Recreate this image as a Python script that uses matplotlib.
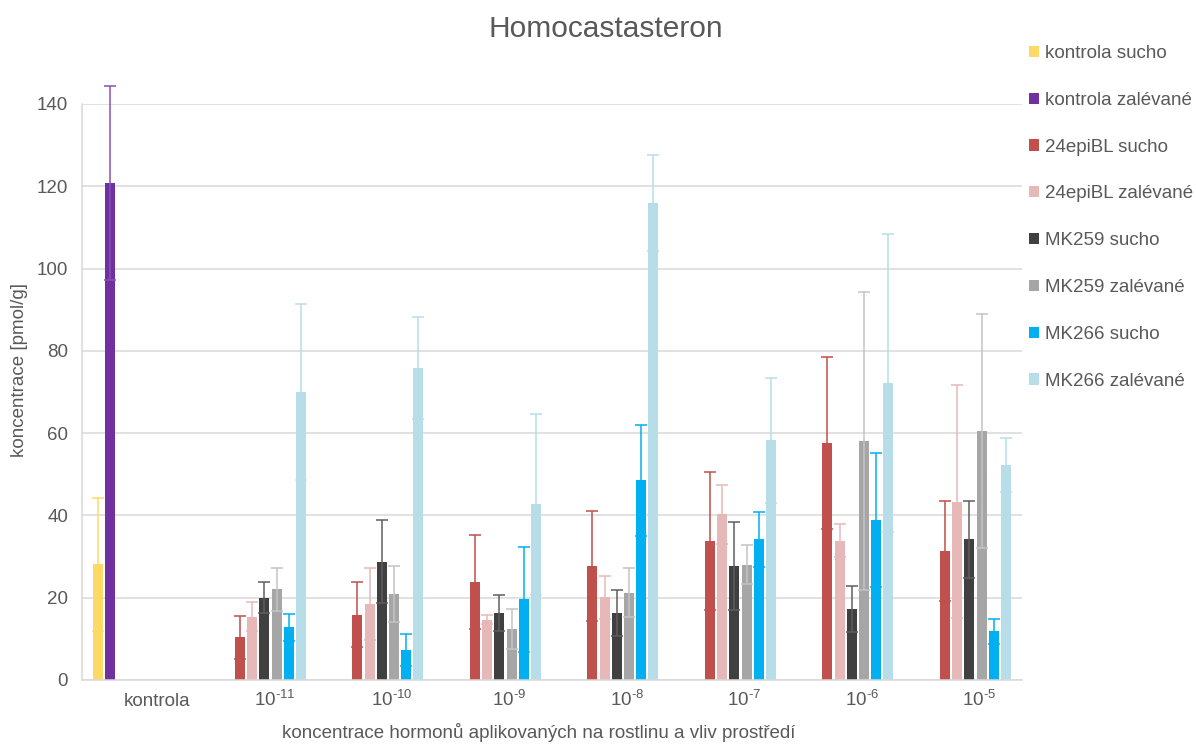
import numpy as np
import matplotlib
matplotlib.use("Agg")
import matplotlib.pyplot as plt
from matplotlib.transforms import ScaledTranslation

plt.rcParams['font.family'] = ['Liberation Sans', 'DejaVu Sans']
plt.rcParams['mathtext.fontset'] = 'custom'
plt.rcParams['mathtext.rm'] = 'Liberation Sans'
plt.rcParams['mathtext.it'] = 'Liberation Sans:italic'
plt.rcParams['mathtext.bf'] = 'Liberation Sans:bold'

nan = np.nan

categories = ['kontrola', r'$\mathregular{10^{\text{-}11}}$', r'$\mathregular{10^{\text{-}10}}$',
              r'$\mathregular{10^{\text{-}9}}$', r'$\mathregular{10^{\text{-}8}}$',
              r'$\mathregular{10^{\text{-}7}}$', r'$\mathregular{10^{\text{-}6}}$',
              r'$\mathregular{10^{\text{-}5}}$']

series_names = ['kontrola sucho', 'kontrola zalévané', '24epiBL sucho', '24epiBL zalévané',
                'MK259 sucho', 'MK259 zalévané', 'MK266 sucho', 'MK266 zalévané']

kontrola_sucho = [28.1, nan, nan, nan, nan, nan, nan, nan]
kontrola_sucho_err = [16.2, nan, nan, nan, nan, nan, nan, nan]
kontrola_zal = [120.8, nan, nan, nan, nan, nan, nan, nan]
kontrola_zal_err = [23.5, nan, nan, nan, nan, nan, nan, nan]
epi_sucho = [nan, 10.4, 15.8, 23.8, 27.7, 33.8, 57.6, 31.4]
epi_sucho_err = [nan, 5.2, 7.9, 11.4, 13.3, 16.7, 20.9, 12.2]
epi_zal = [nan, 15.4, 18.5, 14.7, 20.1, 40.3, 33.8, 43.3]
epi_zal_err = [nan, 3.5, 8.7, 1.0, 5.2, 7.2, 4.0, 28.3]
mk259_sucho = [nan, 20.0, 28.8, 16.3, 16.3, 27.6, 17.2, 34.2]
mk259_sucho_err = [nan, 3.7, 10.0, 4.4, 5.6, 10.7, 5.6, 9.4]
mk259_zal = [nan, 22.0, 20.9, 12.4, 21.2, 28.0, 58.0, 60.6]
mk259_zal_err = [nan, 5.2, 6.7, 4.8, 6.0, 4.7, 36.2, 28.4]
mk266_sucho = [nan, 12.8, 7.3, 19.6, 48.5, 34.2, 38.8, 11.8]
mk266_sucho_err = [nan, 3.3, 3.8, 12.7, 13.6, 6.7, 16.3, 3.1]
mk266_zal = [nan, 70.1, 75.9, 42.7, 115.9, 58.3, 72.2, 52.3]
mk266_zal_err = [nan, 21.4, 12.4, 22.0, 11.7, 15.2, 36.3, 6.6]

values = [kontrola_sucho, kontrola_zal, epi_sucho, epi_zal,
          mk259_sucho, mk259_zal, mk266_sucho, mk266_zal]
errors = [kontrola_sucho_err, kontrola_zal_err, epi_sucho_err, epi_zal_err,
          mk259_sucho_err, mk259_zal_err, mk266_sucho_err, mk266_zal_err]

bar_colors = ['#FFD966', '#7030A0', '#C0504D', '#E6B9B8',
              '#404040', '#A6A6A6', '#00B0F0', '#B7DEE8']
err_colors = ['#FFD966', '#8A50B8', '#C0504D', '#E6B9B8',
              '#5F5F5F', '#C4C4C4', '#00B0F0', '#B7DEE8']

text_color = '#595959'
grid_color = '#D9D9D9'
fs = 13.5

W, H = 1196, 744
fig = plt.figure(figsize=(W / 100, H / 100), dpi=100)
ax = fig.add_axes([82 / W, 1 - 680 / H, 940 / W, (680 - 104) / H])

slot = 0.1038
width = 0.085
idx = np.arange(len(categories))
handles = []
for k in range(len(series_names)):
    x = idx + (k - 3.5) * slot
    v = np.array(values[k], dtype=float)
    e = np.array(errors[k], dtype=float)
    b = ax.bar(x, v, width, color=bar_colors[k], zorder=2, label=series_names[k])
    handles.append(b)
    m = ~np.isnan(v)
    ax.errorbar(x[m], v[m], yerr=e[m], fmt='none', ecolor=err_colors[k],
                elinewidth=1.1, capsize=4, capthick=1.1, zorder=3, clip_on=False)

ax.set_xlim(-0.5, len(categories) - 0.5)
ax.set_ylim(0, 140)
ax.set_yticks(np.arange(0, 141, 20))
ax.set_xticks(idx)
ax.set_xticklabels(categories)

ax.yaxis.grid(True, color=grid_color, linewidth=1.1, zorder=0)
ax.set_axisbelow(True)
for s in ['top', 'right']:
    ax.spines[s].set_visible(False)
for s in ['left', 'bottom']:
    ax.spines[s].set_color(grid_color)
    ax.spines[s].set_linewidth(1.1)

ax.tick_params(axis='y', length=0, labelsize=fs, labelcolor=text_color, pad=10)
ax.tick_params(axis='x', length=0, labelsize=fs, labelcolor=text_color, pad=18.7)
shift = ScaledTranslation(16 / 100, 0, fig.dpi_scale_trans)
for lbl in ax.get_xticklabels():
    lbl.set_verticalalignment('baseline')
    lbl.set_transform(lbl.get_transform() + shift)

ax.set_ylabel('koncentrace [pmol/g]', fontsize=fs, color=text_color, va='center')
ax.yaxis.set_label_coords(-62 / 940, (680 - 370) / 576)
ax.set_xlabel('koncentrace hormonů aplikovaných na rostlinu a vliv prostředí',
              fontsize=fs, color=text_color, va='center')
ax.xaxis.set_label_coords((539 - 82) / 940, -53 / 576)

fig.text(606 / W, 1 - 29 / H, 'Homocastasteron', ha='center', va='center',
         fontsize=21.5, color=text_color)

fig.legend(handles, series_names, loc='upper left',
           bbox_to_anchor=(1029 / W, 1 - 45 / H), frameon=False, fontsize=fs,
           labelcolor=text_color, labelspacing=1.59, handlelength=0.55,
           handleheight=0.55, handletextpad=0.3, borderpad=0, borderaxespad=0)

fig.savefig('out.png', dpi=100)
